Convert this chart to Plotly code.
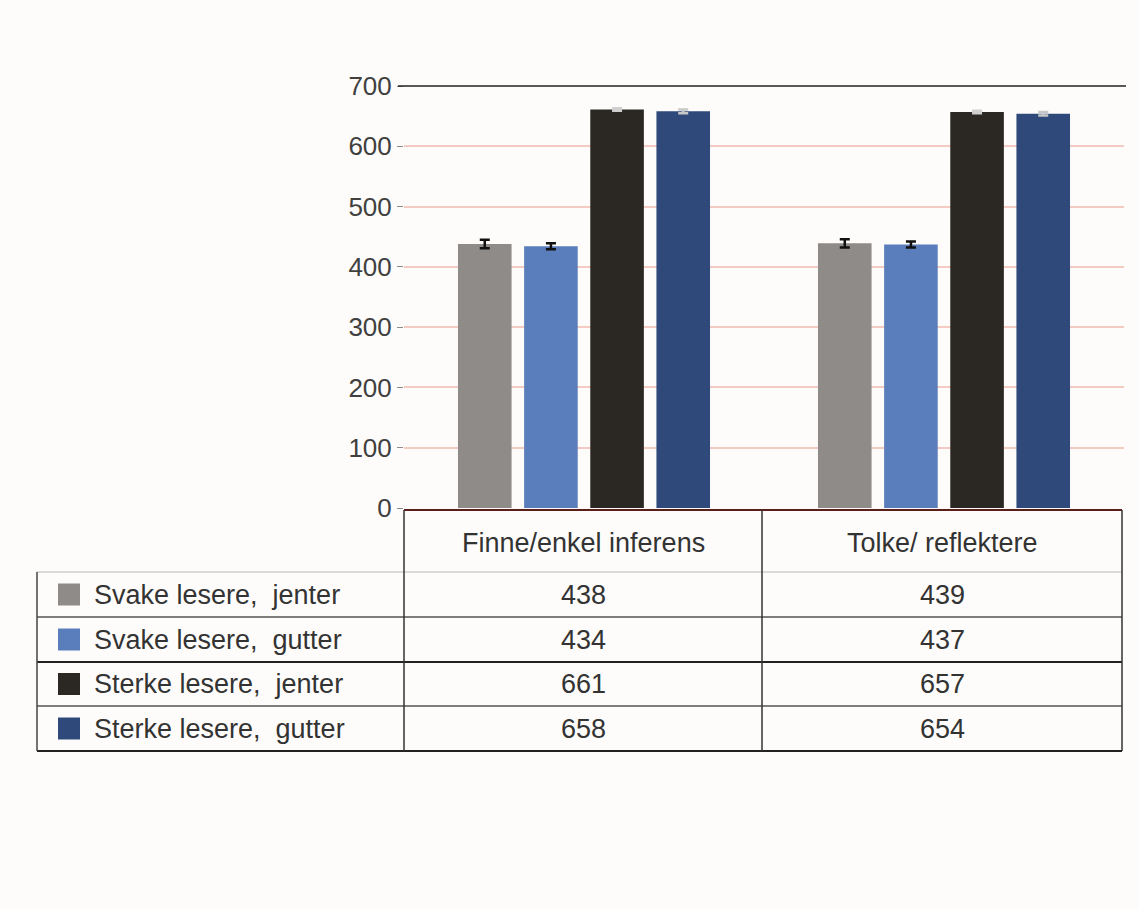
import plotly.graph_objects as go

categories = ["Finne/enkel inferens", "Tolke/ reflektere"]
series_names = ["Svake lesere,  jenter", "Svake lesere,  gutter",
                "Sterke lesere,  jenter", "Sterke lesere,  gutter"]
svake_jenter = [438, 439]
svake_gutter = [434, 437]
sterke_jenter = [661, 657]
sterke_gutter = [658, 654]
err_svake_jenter = [7, 7]
err_svake_gutter = [5, 5]
err_sterke_jenter = [2, 2]
err_sterke_gutter = [3, 3]
y_ticks = [0, 100, 200, 300, 400, 500, 600, 700]

values = [svake_jenter, svake_gutter, sterke_jenter, sterke_gutter]
errors = [err_svake_jenter, err_svake_gutter, err_sterke_jenter, err_sterke_gutter]
colors = ["#8e8b88", "#5a7dbb", "#2b2723", "#2f4a7a"]
err_colors = ["#111111", "#111111", "#cfcfcf", "#c8c8c8"]

W, H = 1138, 910
def px(x): return x / W
def py(y): return 1 - y / H

fig = go.Figure()
for name, vals, errs, c, ec in zip(series_names, values, errors, colors, err_colors):
    fig.add_trace(go.Bar(
        x=categories, y=vals, name=name, marker_color=c,
        marker_line_width=0,
        error_y=dict(type="data", array=errs, color=ec, thickness=2.5, width=5),
    ))

plot_l, plot_r, plot_t, plot_b = 404, 1124, 86, 508

fig.update_layout(
    width=W, height=H,
    margin=dict(l=0, r=0, t=0, b=0, autoexpand=False),
    paper_bgcolor="#fdfcfa", plot_bgcolor="#fdfcfa",
    barmode="group", bargap=0.265, bargroupgap=0.19,
    showlegend=False,
    font=dict(family="Liberation Sans, Arial", color="#333333"),
    xaxis=dict(domain=[px(plot_l), px(plot_r)], showticklabels=False,
               showgrid=False, zeroline=False, showline=False),
    yaxis=dict(domain=[py(plot_b), py(plot_t)], range=[0, 700],
               tickvals=y_ticks, showgrid=True, gridcolor="#f3cbc3", gridwidth=1.5,
               zeroline=False, showline=False, ticks="outside", ticklen=6,
               tickcolor="#8a8a8a", tickfont=dict(size=26, color="#404040")),
)

shapes = []
shapes.append(dict(type="line", xref="paper", yref="paper", x0=px(398), x1=px(1126),
                   y0=py(plot_t), y1=py(plot_t), line=dict(color="#222222", width=1.5)))

col_x = [37, 404, 762, 1122]
row_y = [510, 572, 617, 662, 706, 751]

def hline(x0, x1, y, color, w):
    shapes.append(dict(type="line", xref="paper", yref="paper", x0=px(x0), x1=px(x1),
                       y0=py(y), y1=py(y), line=dict(color=color, width=w)))
def vline(x, y0, y1, color, w):
    shapes.append(dict(type="line", xref="paper", yref="paper", x0=px(x), x1=px(x),
                       y0=py(y0), y1=py(y1), line=dict(color=color, width=w)))

hline(col_x[1], col_x[3], row_y[0], "#5a1f1a", 2)
hline(col_x[0], col_x[3], row_y[1], "#cfcfcf", 1.5)
hline(col_x[0], col_x[3], row_y[2], "#555555", 1.5)
hline(col_x[0], col_x[3], row_y[3], "#222222", 2)
hline(col_x[0], col_x[3], row_y[4], "#555555", 1.5)
hline(col_x[0], col_x[3], row_y[5], "#222222", 2)
vline(col_x[0], row_y[1], row_y[5], "#444444", 1.5)
vline(col_x[1], row_y[0], row_y[5], "#333333", 1.5)
vline(col_x[2], row_y[0], row_y[5], "#333333", 1.5)
vline(col_x[3], row_y[0], row_y[5], "#333333", 1.5)

annotations = []
for i, cat in enumerate(categories):
    cx = (col_x[i + 1] + col_x[i + 2]) / 2
    annotations.append(dict(xref="paper", yref="paper", x=px(cx), y=py((row_y[0] + row_y[1]) / 2 + 2),
                            text=cat, showarrow=False, xanchor="center", yanchor="middle",
                            font=dict(size=27, color="#333333")))
for r, (name, vals, c) in enumerate(zip(series_names, values, colors)):
    cy = (row_y[r + 1] + row_y[r + 2]) / 2
    shapes.append(dict(type="rect", xref="paper", yref="paper",
                       x0=px(58), x1=px(80), y0=py(cy - 11), y1=py(cy + 11),
                       fillcolor=c, line=dict(width=0)))
    annotations.append(dict(xref="paper", yref="paper", x=px(92), y=py(cy),
                            text=name, showarrow=False, xanchor="left", yanchor="middle",
                            font=dict(size=27, color="#333333")))
    for i, v in enumerate(vals):
        cx = (col_x[i + 1] + col_x[i + 2]) / 2
        annotations.append(dict(xref="paper", yref="paper", x=px(cx), y=py(cy),
                                text=str(v), showarrow=False, xanchor="center", yanchor="middle",
                                font=dict(size=27, color="#333333")))

fig.update_layout(shapes=shapes, annotations=annotations)
fig.write_html("out.html", config={"displayModeBar": False},
               post_script="document.body.style.margin='0';document.body.style.background='#fdfcfa';")
